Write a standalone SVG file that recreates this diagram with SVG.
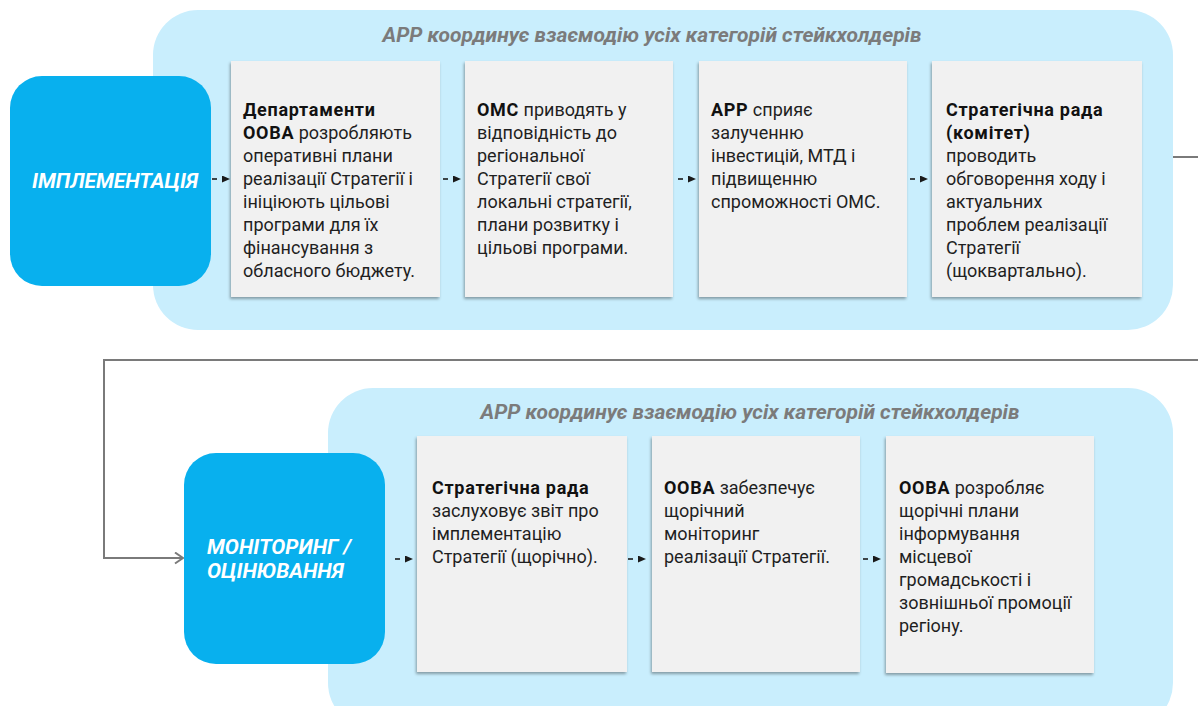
<svg xmlns="http://www.w3.org/2000/svg" width="1198" height="706" viewBox="0 0 1198 706">
<defs>
<filter id="sh" x="-10%" y="-10%" width="120%" height="120%">
<feDropShadow dx="-1" dy="2" stdDeviation="1.5" flood-color="#000" flood-opacity="0.35"/>
</filter>
<marker id="tri" markerUnits="userSpaceOnUse" markerWidth="9" markerHeight="8" refX="0" refY="3.5" orient="auto">
<path d="M0,0 L8,3.5 L0,7 Z" fill="#1a1a1a"/>
</marker>
<marker id="open" markerUnits="userSpaceOnUse" markerWidth="12" markerHeight="14" refX="9" refY="6" orient="auto">
<path d="M1,0.5 L9,6 L1,11.5" fill="none" stroke="#7a7a7a" stroke-width="2"/>
</marker>
</defs>
<style>
text{font-family:Roboto,"Liberation Sans",sans-serif}
.panel{fill:#c9eefd}
.stage{fill:#08b0ee}
.card{fill:#f1f1f1;filter:url(#sh)}
.lbl{font-size:21px;font-weight:bold;font-style:italic;fill:#7b7b7b}
.st{font-size:21px;font-weight:bold;font-style:italic;fill:#fff}
.tx{font-size:18px;fill:#1f1f1f}
.b{font-weight:bold;fill:#111;letter-spacing:0.7px}
.da{stroke:#1a1a1a;stroke-width:1.6;stroke-dasharray:5 5;marker-end:url(#tri);fill:none}
.fb{fill:none;stroke:#7a7a7a;stroke-width:2}
</style>
<rect width="1198" height="706" fill="#fff"/>

<g id="panel-top">
<rect class="panel" x="153" y="10" width="1020" height="320" rx="45"/>
<text class="lbl" x="652" y="42" text-anchor="middle">АРР координує взаємодію усіх категорій стейкхолдерів</text>
</g>
<g id="panel-bottom">
<rect class="panel" x="328" y="388" width="845" height="340" rx="45"/>
<text class="lbl" x="750" y="419" text-anchor="middle">АРР координує взаємодію усіх категорій стейкхолдерів</text>
</g>

<g id="connectors">
<path class="fb" d="M1173 157 H1210 V360 H104 V558 H183" marker-end="url(#open)"/>
<line class="da" x1="212" y1="179" x2="222" y2="179"/>
<line class="da" x1="443" y1="179" x2="453" y2="179"/>
<line class="da" x1="678" y1="179" x2="688" y2="179"/>
<line class="da" x1="910" y1="179" x2="920" y2="179"/>
<line class="da" x1="395" y1="559" x2="405" y2="559"/>
<line class="da" x1="628" y1="559" x2="638" y2="559"/>
<line class="da" x1="863" y1="559" x2="873" y2="559"/>
</g>

<g id="implementation">
<rect class="stage" x="10" y="76" width="201" height="210" rx="32"/>
<text class="st" x="115" y="188" text-anchor="middle">ІМПЛЕМЕНТАЦІЯ</text>
</g>

<g id="box1">
<rect class="card" x="231" y="61" width="209" height="236"/>
<text class="tx" x="243" y="116">
<tspan class="b">Департаменти</tspan>
<tspan x="243" dy="23"><tspan class="b">ООВА</tspan> розробляють</tspan>
<tspan x="243" dy="23">оперативні плани</tspan>
<tspan x="243" dy="23">реалізації Стратегії і</tspan>
<tspan x="243" dy="23">ініціюють цільові</tspan>
<tspan x="243" dy="23">програми для їх</tspan>
<tspan x="243" dy="23">фінансування з</tspan>
<tspan x="243" dy="23">обласного бюджету.</tspan>
</text>
</g>

<g id="box2">
<rect class="card" x="465" y="61" width="208" height="236"/>
<text class="tx" x="477" y="116">
<tspan class="b">ОМС</tspan> приводять у
<tspan x="477" dy="23">відповідність до</tspan>
<tspan x="477" dy="23">регіональної</tspan>
<tspan x="477" dy="23">Стратегії свої</tspan>
<tspan x="477" dy="23">локальні стратегії,</tspan>
<tspan x="477" dy="23">плани розвитку і</tspan>
<tspan x="477" dy="23">цільові програми.</tspan>
</text>
</g>

<g id="box3">
<rect class="card" x="699" y="61" width="208" height="236"/>
<text class="tx" x="711" y="116">
<tspan class="b">АРР</tspan> сприяє
<tspan x="711" dy="23">залученню</tspan>
<tspan x="711" dy="23">інвестицій, МТД і</tspan>
<tspan x="711" dy="23">підвищенню</tspan>
<tspan x="711" dy="23">спроможності ОМС.</tspan>
</text>
</g>

<g id="box4">
<rect class="card" x="932" y="61" width="210" height="236"/>
<text class="tx" x="946" y="116">
<tspan class="b">Стратегічна рада</tspan>
<tspan x="946" dy="23" class="b">(комітет)</tspan>
<tspan x="946" dy="23">проводить</tspan>
<tspan x="946" dy="23">обговорення ходу і</tspan>
<tspan x="946" dy="23">актуальних</tspan>
<tspan x="946" dy="23">проблем реалізації</tspan>
<tspan x="946" dy="23">Стратегії</tspan>
<tspan x="946" dy="23">(щоквартально).</tspan>
</text>
</g>

<g id="monitoring">
<rect class="stage" x="184" y="453" width="201" height="211" rx="32"/>
<text class="st" x="207" y="554">МОНІТОРИНГ /</text>
<text class="st" x="207" y="578">ОЦІНЮВАННЯ</text>
</g>

<g id="box5">
<rect class="card" x="417" y="436" width="210" height="236"/>
<text class="tx" x="432" y="494">
<tspan class="b">Стратегічна рада</tspan>
<tspan x="432" dy="23">заслуховує звіт про</tspan>
<tspan x="432" dy="23">імплементацію</tspan>
<tspan x="432" dy="23">Стратегії (щорічно).</tspan>
</text>
</g>

<g id="box6">
<rect class="card" x="652" y="436" width="208" height="236"/>
<text class="tx" x="664" y="494">
<tspan class="b">ООВА</tspan> забезпечує
<tspan x="664" dy="23">щорічний</tspan>
<tspan x="664" dy="23">моніторинг</tspan>
<tspan x="664" dy="23">реалізації Стратегії.</tspan>
</text>
</g>

<g id="box7">
<rect class="card" x="886" y="436" width="208" height="237"/>
<text class="tx" x="899" y="494">
<tspan class="b">ООВА</tspan> розробляє
<tspan x="899" dy="23">щорічні плани</tspan>
<tspan x="899" dy="23">інформування</tspan>
<tspan x="899" dy="23">місцевої</tspan>
<tspan x="899" dy="23">громадськості і</tspan>
<tspan x="899" dy="23">зовнішньої промоції</tspan>
<tspan x="899" dy="23">регіону.</tspan>
</text>
</g>
</svg>
